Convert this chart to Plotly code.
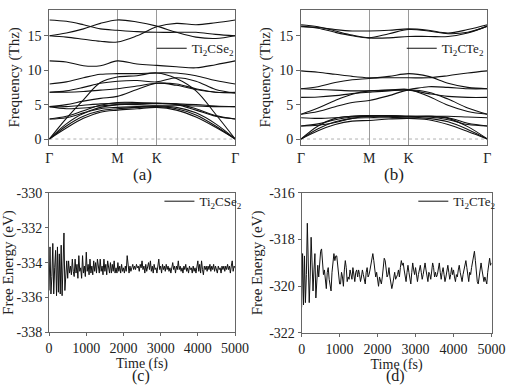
import plotly.graph_objects as go

# k-path positions (Gamma - M - K - Gamma) and tick labels
k_path = [0, 0.144, 0.289, 0.433, 0.577, 0.744, 0.911, 1.078, 1.244, 1.411, 1.577]
k_ticks = [0, 0.577, 0.911, 1.577]
k_labels = ["Γ", "M", "K", "Γ"]

# phonon branches of Ti2CSe2 (THz), one row per branch
bands_cse = [
    [0, 1.6, 3.0, 3.9, 4.2, 4.4, 4.6, 4.2, 3.2, 1.7, 0],
    [0, 1.9, 3.3, 4.1, 4.4, 4.6, 4.7, 4.4, 3.5, 1.9, 0],
    [0, 2.2, 3.7, 4.4, 4.6, 4.7, 4.8, 4.6, 3.8, 2.2, 0],
    [0, 3.0, 5.7, 8.2, 9.0, 9.2, 9.6, 8.8, 7.0, 3.6, 0],
    [2.9, 3.1, 3.8, 4.6, 5.0, 5.1, 5.2, 5.0, 4.2, 3.3, 2.9],
    [2.9, 3.3, 4.1, 4.9, 5.3, 5.3, 5.2, 5.1, 4.4, 3.4, 2.9],
    [4.7, 5.0, 5.5, 5.9, 6.2, 7.2, 8.1, 7.8, 7.2, 6.8, 6.7],
    [4.7, 4.7, 4.9, 5.1, 5.2, 5.2, 5.2, 5.1, 5.0, 4.8, 4.7],
    [4.7, 4.4, 4.5, 4.8, 5.0, 5.0, 4.9, 4.9, 4.8, 4.7, 4.7],
    [6.8, 6.8, 6.9, 7.1, 7.3, 7.7, 8.1, 8.0, 7.3, 6.8, 6.8],
    [6.8, 7.0, 7.5, 8.1, 8.4, 8.5, 8.3, 8.9, 8.4, 7.2, 6.7],
    [8.0, 8.3, 8.9, 9.4, 9.5, 9.5, 9.6, 9.6, 9.2, 8.5, 8.0],
    [11.35, 11.2, 10.65, 10.65, 11.35, 10.9, 10.7, 10.5, 10.35, 10.8, 11.35],
    [17.3, 17.1, 16.6, 16.0, 15.8, 15.6, 15.5, 15.5, 15.5, 15.2, 15.0],
    [15.0, 15.4, 16.0, 16.8, 17.3, 17.0, 16.4, 15.5, 14.8, 14.6, 15.0],
    [15.0, 14.8, 14.5, 14.2, 14.1, 15.0, 16.3, 16.8, 16.6, 16.9, 17.3],
]

# phonon branches of Ti2CTe2 (THz)
bands_cte = [
    [0, 1.2, 2.1, 2.6, 2.7, 2.9, 3.0, 2.8, 2.1, 1.1, 0],
    [0, 1.5, 2.5, 3.0, 3.1, 3.1, 3.2, 3.0, 2.5, 1.4, 0],
    [0, 1.9, 3.0, 3.3, 3.4, 3.3, 3.2, 3.3, 3.0, 1.8, 0],
    [1.9, 2.2, 2.8, 3.2, 3.3, 3.4, 3.3, 3.2, 2.8, 2.1, 1.9],
    [1.9, 2.0, 2.4, 3.0, 3.3, 3.3, 3.3, 3.3, 3.1, 2.3, 1.9],
    [3.1, 3.0, 3.1, 3.3, 3.4, 3.4, 3.3, 3.3, 3.3, 3.2, 3.1],
    [3.6, 4.5, 5.6, 6.5, 7.0, 7.1, 7.2, 6.2, 4.9, 4.0, 3.6],
    [3.6, 4.0, 4.7, 5.3, 5.6, 6.3, 7.1, 6.8, 5.8, 4.5, 3.6],
    [6.05, 6.1, 6.3, 6.6, 6.8, 7.0, 7.1, 6.6, 6.2, 6.05, 6.05],
    [7.3, 7.2, 7.1, 7.0, 7.0, 7.1, 7.2, 7.6, 7.5, 7.3, 7.3],
    [7.3, 7.6, 8.2, 8.6, 8.8, 9.1, 9.5, 9.1, 8.1, 7.5, 7.3],
    [9.9, 9.7, 9.4, 9.1, 8.9, 8.9, 8.9, 8.9, 9.2, 9.6, 9.9],
    [16.6, 16.3, 15.7, 15.1, 14.7, 14.7, 14.9, 14.9, 14.9, 15.4, 16.4],
    [16.4, 16.1, 15.5, 15.0, 14.7, 15.3, 15.9, 15.7, 15.3, 15.5, 16.4],
    [16.3, 16.2, 15.9, 15.7, 15.7, 15.8, 16.0, 15.8, 15.4, 15.9, 16.6],
]

# AIMD free energy, one value every 25 fs
time_fs = list(range(0, 5001, 25))

energy_cse = [
    -335.6, -333.1, -335.8, -334.8, -332.9, -335.8, -334.3, -333.3,
    -335.9, -333.1, -335.7, -333.5, -335.8, -333.0, -335.9, -334.5,
    -332.3, -335.6, -334.2, -333.9, -334.9, -333.9, -334.6, -334.2,
    -334.7, -333.8, -334.5, -334.8, -333.8, -334.6, -334.1, -334.9,
    -333.6, -334.5, -334.3, -334.9, -333.6, -334.6, -334.2, -334.8,
    -333.4, -334.5, -334.1, -334.7, -333.8, -334.6, -334.2, -334.7,
    -333.9, -334.5, -334.0, -334.6, -333.8, -334.4, -334.6, -333.8,
    -334.5, -334.2, -334.7, -333.8, -334.5, -334.1, -334.7, -333.9,
    -334.4, -334.6, -334.0, -334.6, -334.1, -334.5, -333.9, -334.6,
    -334.3, -334.6, -334.0, -334.5, -334.2, -334.6, -334.1, -334.5,
    -334.3, -334.6, -334.2, -334.5, -333.6, -334.4, -334.6, -334.2,
    -334.5, -334.3, -334.1, -334.4, -334.2, -334.4, -334.1, -334.3,
    -334.2, -334.5, -334.1, -334.3, -333.9, -334.4, -334.2, -334.6,
    -334.1, -334.5, -334.2, -334.0, -334.4, -333.9, -334.5, -334.2,
    -334.6, -334.1, -334.4, -334.3, -334.6, -334.0, -333.8, -334.4,
    -334.2, -334.6, -334.1, -334.4, -334.2, -334.5, -334.1, -334.4,
    -334.2, -334.5, -334.3, -334.6, -334.2, -334.0, -334.4, -334.2,
    -334.6, -334.2, -334.4, -333.9, -334.4, -334.2, -334.5, -334.3,
    -334.6, -334.2, -334.4, -334.1, -334.5, -334.3, -334.6, -334.2,
    -334.4, -334.3, -334.6, -334.2, -334.5, -334.3, -334.6, -334.3,
    -333.9, -334.5, -334.1, -334.6, -333.9, -334.4, -334.7, -334.2,
    -334.4, -334.2, -334.5, -334.2, -334.4, -334.1, -334.5, -334.2,
    -334.4, -334.1, -334.5, -334.2, -334.4, -334.6, -334.2, -334.4,
    -334.3, -334.6, -334.2, -334.4, -334.2, -334.5, -334.2, -334.4,
    -334.1, -334.4, -334.2, -334.6, -334.2, -333.9, -334.5, -334.2,
    -334.3,
]

energy_cte = [
    -320.9, -318.6, -320.8, -318.7, -320.7, -319.5, -317.3, -319.0,
    -320.7, -319.6, -317.9, -319.0, -320.2, -319.3, -318.6, -320.5,
    -319.8, -319.1, -319.6, -319.0, -318.5, -318.4, -318.9, -319.5,
    -319.3, -319.8, -320.1, -319.4, -319.2, -319.7, -320.1, -320.2,
    -319.4, -318.8, -318.6, -318.9, -318.7, -318.7, -319.2, -319.6,
    -319.9, -319.9, -319.4, -319.6, -320.0, -319.3, -318.9, -319.2,
    -319.8, -319.6, -319.7, -319.3, -319.5, -319.7, -319.2, -319.5,
    -319.8, -319.4, -319.3, -319.6, -319.3, -319.5, -319.8, -319.6,
    -319.3, -319.5, -319.7, -319.9, -319.4, -319.2, -319.6, -319.5,
    -319.3, -319.1, -318.8, -318.6, -318.9, -319.2, -319.6, -319.4,
    -319.7, -320.0, -319.6, -319.8, -319.9, -319.6, -319.2, -318.8,
    -318.9, -319.3, -319.6, -319.5, -319.2, -319.6, -319.8, -320.1,
    -319.9, -319.6, -319.4, -319.7, -319.6, -319.5, -319.3, -319.6,
    -319.2, -318.9, -319.1, -319.0, -319.3, -319.5, -319.8, -319.4,
    -319.1, -319.4, -319.7, -319.9, -319.4, -319.0, -319.3, -319.5,
    -319.2, -319.6, -319.8, -319.5, -319.3, -319.1, -319.4, -319.7,
    -319.5, -319.2, -319.0, -319.3, -319.6, -319.8, -319.4, -319.5,
    -319.7, -319.3, -319.0, -319.2, -319.6, -319.4, -319.6, -319.5,
    -319.3, -319.0, -319.4, -319.7, -319.4, -319.2, -319.5, -319.8,
    -319.6, -319.3, -319.1, -319.4, -319.7, -319.5, -319.2, -319.5,
    -319.3, -319.6, -319.8, -319.5, -319.6, -319.3, -319.1, -319.4,
    -319.6, -319.8, -319.5, -319.3, -319.0, -318.9, -319.2, -319.6,
    -319.8, -319.4, -319.5, -319.2, -319.0, -318.7, -318.5, -318.9,
    -319.5, -319.8, -319.9, -319.5, -319.1, -319.0, -319.3, -319.7,
    -319.8, -319.6, -319.8, -319.9, -319.4, -319.1, -318.8, -319.1,
    -319.0,
]

names = ["Ti<sub>2</sub>CSe<sub>2</sub>", "Ti<sub>2</sub>CTe<sub>2</sub>"]

FONT = "Liberation Serif, Times New Roman, Times, serif"
INK = "#222222"
FRAME = "#666666"

fig = go.Figure()

# band structures
for i, bands in enumerate([bands_cse, bands_cte]):
    ax = "" if i == 0 else "2"
    for j, b in enumerate(bands):
        fig.add_trace(go.Scatter(
            x=k_path, y=b, mode="lines", line=dict(color="#111111", width=1.1, shape="spline"),
            name=names[i], showlegend=(j == 0), legend="legend" if i == 0 else "legend2",
            xaxis="x" + ax, yaxis="y" + ax,
        ))

# free energy vs time
for i, e in enumerate([energy_cse, energy_cte]):
    ax = str(i + 3)
    fig.add_trace(go.Scatter(
        x=time_fs, y=e, mode="lines", line=dict(color="#111111", width=1),
        name=names[i], legend="legend" + ax, xaxis="x" + ax, yaxis="y" + ax,
    ))

W, H = 520, 391

def px_x(a, b):
    return [a / W, b / W]

def px_y(top, bottom):
    return [1 - bottom / H, 1 - top / H]

frame = dict(showline=True, linecolor=FRAME, linewidth=1, mirror=True, zeroline=False,
             tickfont=dict(family=FONT, size=14, color=INK), tickcolor=FRAME)

band_x = dict(frame, range=[0, 1.577], tickvals=k_ticks, ticktext=k_labels, ticks="",
              showgrid=True, gridcolor="#9a9a9a", gridwidth=1)
band_y = dict(frame, range=[-0.84, 18.76], tickvals=[0, 5, 10, 15], ticks="outside", ticklen=4,
              showgrid=False, title=dict(text="Frequency (Thz)", font=dict(family=FONT, size=15, color=INK), standoff=4))

md_x = dict(frame, range=[0, 5000], tickvals=[0, 1000, 2000, 3000, 4000, 5000], ticks="outside", ticklen=3,
            showgrid=False, title=dict(text="Time (fs)", font=dict(family=FONT, size=14, color=INK), standoff=0))

fig.update_layout(
    width=W, height=H, margin=dict(l=0, r=0, t=0, b=0),
    paper_bgcolor="white", plot_bgcolor="white",
    font=dict(family=FONT, color=INK),
    xaxis=dict(band_x, domain=px_x(47, 239.5), anchor="y"),
    yaxis=dict(band_y, domain=px_y(3, 143.3), anchor="x"),
    xaxis2=dict(band_x, domain=px_x(307.7, 500.7), anchor="y2"),
    yaxis2=dict(band_y, domain=px_y(3, 143.3), anchor="x2"),
    xaxis3=dict(md_x, domain=px_x(46.7, 239.3), anchor="y3"),
    yaxis3=dict(frame, domain=px_y(193.3, 338.3), anchor="x3", range=[-338, -330],
                tickvals=[-338, -336, -334, -332, -330], ticktext=["-338", "-336", "-334", "-332", "-330"],
                ticks="outside", ticklen=3, showgrid=False,
                title=dict(text="Free Energy (eV)", font=dict(family=FONT, size=15, color=INK), standoff=2)),
    xaxis4=dict(md_x, domain=px_x(308.3, 505), anchor="y4"),
    yaxis4=dict(frame, domain=px_y(193.3, 339), anchor="x4", range=[-322, -316],
                tickvals=[-322, -320, -318, -316], ticktext=["-322", "-320", "-318", "-316"],
                ticks="outside", ticklen=3, showgrid=False,
                title=dict(text="Free Energy (eV)", font=dict(family=FONT, size=15, color=INK), standoff=2)),
)

leg = dict(font=dict(family=FONT, size=13, color=INK), bgcolor="rgba(0,0,0,0)", borderwidth=0,
           xanchor="left", yanchor="middle", itemwidth=30)
fig.update_layout(
    legend=dict(leg, x=153 / W, y=1 - 43 / H),
    legend2=dict(leg, x=412 / W, y=1 - 43 / H),
    legend3=dict(leg, x=161 / W, y=1 - 202 / H),
    legend4=dict(leg, x=424 / W, y=1 - 202 / H),
)

# dotted zero line in the band plots
for ax in ["", "2"]:
    fig.add_shape(type="line", x0=0, x1=1, y0=0, y1=0, xref="x" + ax + " domain", yref="y" + ax,
                  line=dict(color="#b0b0b0", width=1, dash="dot"), layer="below")

for lab, cx, cy, fs in [("(a)", 143, 174, 17), ("(b)", 404, 174, 17), ("(c)", 142, 384, 16), ("(d)", 406, 384, 16)]:
    fig.add_annotation(text=lab, x=cx / W, y=1 - cy / H, xref="paper", yref="paper",
                       xanchor="center", yanchor="middle", showarrow=False,
                       font=dict(family=FONT, size=fs, color=INK))

# page body has a default margin; drop it so the figure sits at the window origin
fig.write_html("out.html", config={"displayModeBar": False},
               post_script="document.body.style.margin='0';document.body.style.overflow='hidden';")
